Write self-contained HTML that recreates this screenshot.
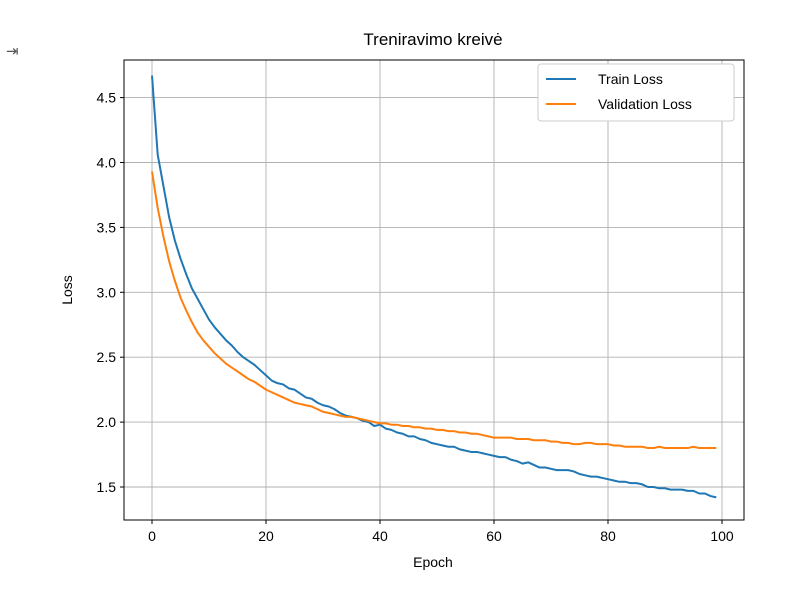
<!DOCTYPE html>
<html><head><meta charset="utf-8"><style>
body{margin:0;background:#fff;width:801px;height:609px;overflow:hidden;font-family:"Liberation Sans","DejaVu Sans",sans-serif;}
</style></head><body>
<svg width="801" height="609" xmlns="http://www.w3.org/2000/svg">
<text x="6" y="56" font-size="15" fill="#555">⇥</text>
<g id="grid"></g>
<g id="series"></g>
<rect x="124" y="60" width="620" height="460" fill="none" stroke="#000" stroke-width="1"/>
<g id="ticks"></g>
<text x="433" y="45" font-size="17" text-anchor="middle">Treniravimo kreivė</text>
<text x="433" y="567" font-size="14" text-anchor="middle">Epoch</text>
<text x="72" y="290" font-size="14" text-anchor="middle" transform="rotate(-90 72 290)">Loss</text>
<g>
<rect x="538" y="64" width="196" height="57" rx="3" fill="#fff" stroke="#ccc"/>
<line x1="546" y1="79" x2="576" y2="79" stroke="#1f77b4" stroke-width="2"/>
<text x="598" y="84" font-size="14">Train Loss</text>
<line x1="546" y1="104" x2="576" y2="104" stroke="#ff7f0e" stroke-width="2"/>
<text x="598" y="109" font-size="14">Validation Loss</text>
</g>
</svg>
<script>
const trainLoss=[4.67,4.06,3.82,3.58,3.40,3.26,3.14,3.03,2.95,2.87,
2.79,2.73,2.68,2.63,2.59,2.54,2.50,2.47,2.44,2.40,
2.36,2.32,2.30,2.29,2.26,2.25,2.22,2.19,2.18,2.15,
2.13,2.12,2.10,2.07,2.05,2.04,2.03,2.01,2.00,1.97,
1.98,1.95,1.94,1.92,1.91,1.89,1.89,1.87,1.86,1.84,
1.83,1.82,1.81,1.81,1.79,1.78,1.77,1.77,1.76,1.75,
1.74,1.73,1.73,1.71,1.70,1.68,1.69,1.67,1.65,1.65,
1.64,1.63,1.63,1.63,1.62,1.60,1.59,1.58,1.58,1.57,
1.56,1.55,1.54,1.54,1.53,1.53,1.52,1.50,1.50,1.49,
1.49,1.48,1.48,1.48,1.47,1.47,1.45,1.45,1.43,1.42];
const valLoss=[3.93,3.65,3.43,3.24,3.09,2.96,2.86,2.77,2.69,2.63,
2.58,2.53,2.49,2.45,2.42,2.39,2.36,2.33,2.31,2.28,
2.25,2.23,2.21,2.19,2.17,2.15,2.14,2.13,2.12,2.10,
2.08,2.07,2.06,2.05,2.04,2.04,2.03,2.02,2.01,2.00,
1.99,1.99,1.98,1.98,1.97,1.97,1.96,1.96,1.95,1.95,
1.94,1.94,1.93,1.93,1.92,1.92,1.91,1.91,1.90,1.89,
1.88,1.88,1.88,1.88,1.87,1.87,1.87,1.86,1.86,1.86,
1.85,1.85,1.84,1.84,1.83,1.83,1.84,1.84,1.83,1.83,
1.83,1.82,1.82,1.81,1.81,1.81,1.81,1.80,1.80,1.81,
1.80,1.80,1.80,1.80,1.80,1.81,1.80,1.80,1.80,1.80];
const xTicks=[0,20,40,60,80,100];
const yTicks=[1.5,2.0,2.5,3.0,3.5,4.0,4.5];
const NS='http://www.w3.org/2000/svg';
const xs=e=>152+5.7*e;
const ys=v=>487-(v-1.5)*129.8;
function mk(tag,attrs,parent){const el=document.createElementNS(NS,tag);for(const k in attrs)el.setAttribute(k,attrs[k]);document.getElementById(parent).appendChild(el);return el;}
xTicks.forEach(t=>{
 const g=mk('line',{x1:xs(t),x2:xs(t),y1:60,y2:520,stroke:'#b0b0b0','stroke-width':0.9},'grid');
 
 
 mk('line',{x1:xs(t),x2:xs(t),y1:520,y2:524,stroke:'#000'},'ticks');
 const tx=mk('text',{x:xs(t),y:541,'font-size':14,'text-anchor':'middle'},'ticks');
 tx.textContent=t;
 
 
});
yTicks.forEach(t=>{
 const g=mk('line',{x1:124,x2:744,y1:ys(t),y2:ys(t),stroke:'#b0b0b0','stroke-width':0.9},'grid');
 
 
 mk('line',{x1:120,x2:124,y1:ys(t),y2:ys(t),stroke:'#000'},'ticks');
 const tx=mk('text',{x:116,y:ys(t)+5,'font-size':14,'text-anchor':'end'},'ticks');
 tx.textContent=t.toFixed(1);
 
 
});
function line(arr,color,name){
 const p=mk('polyline',{points:arr.map((v,i)=>xs(i)+','+ys(v)).join(' '),fill:'none',stroke:color,'stroke-width':2,'stroke-linejoin':'round'},'series');
 
 
}
line(trainLoss,'#1f77b4','train-loss-line');
line(valLoss,'#ff7f0e','validation-loss-line');
</script>
</body></html>
